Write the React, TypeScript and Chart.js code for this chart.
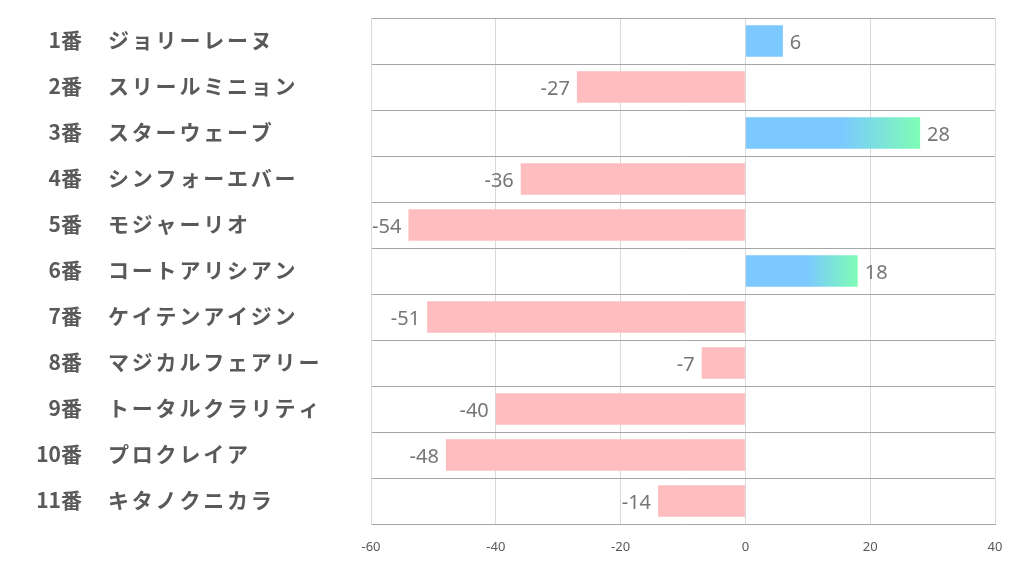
import React, { useEffect, useRef } from "react";
import { Chart, registerables } from "chart.js";

Chart.register(...registerables);

const horseNumbers = ["1番", "2番", "3番", "4番", "5番", "6番", "7番", "8番", "9番", "10番", "11番"];
const horseNames = [
  "ジョリーレーヌ",
  "スリールミニョン",
  "スターウェーブ",
  "シンフォーエバー",
  "モジャーリオ",
  "コートアリシアン",
  "ケイテンアイジン",
  "マジカルフェアリー",
  "トータルクラリティ",
  "プロクレイア",
  "キタノクニカラ",
];
const values = [6, -27, 28, -36, -54, 18, -51, -7, -40, -48, -14];
const xTicks = [-60, -40, -20, 0, 20, 40];

const BLUE = "#7BC9FF";
const GREEN = "#7EFDB5";
const PINK = "#FFBDBF";

const labelPlugin = {
  id: "labelPlugin",
  afterDraw(chart: any) {
    const ctx = chart.ctx;
    const y = chart.scales.y;
    const x = chart.scales.x;
    ctx.save();
    ctx.textBaseline = "middle";
    // category labels
    ctx.fillStyle = "#595959";
    ctx.font = "bold 21px 'Noto Sans CJK JP'";
    horseNumbers.forEach((n, i) => {
      const py = y.getPixelForValue(i) - 1;
      ctx.letterSpacing = "0px";
      ctx.textAlign = "right";
      ctx.fillText(n, 82, py);
      ctx.textAlign = "left";
      ctx.letterSpacing = "2.8px";
      ctx.fillText(horseNames[i], 108, py);
    });
    ctx.letterSpacing = "0px";
    // value labels
    ctx.fillStyle = "#767676";
    ctx.font = "20px 'Noto Sans'";
    values.forEach((v, i) => {
      const py = y.getPixelForValue(i) + 2;
      const px = x.getPixelForValue(v);
      if (v >= 0) {
        ctx.textAlign = "left";
        ctx.fillText(String(v), px + 7, py);
      } else {
        ctx.textAlign = "right";
        ctx.fillText(String(v), px - 7, py);
      }
    });
    ctx.restore();
  },
};

export default function App() {
  const ref = useRef<HTMLCanvasElement>(null);
  useEffect(() => {
    document.body.style.margin = "0";
    const chart = new Chart(ref.current!, {
      type: "bar",
      data: {
        labels: horseNumbers.map((n, i) => n + "　" + horseNames[i]),
        datasets: [
          {
            data: values,
            barPercentage: 0.68,
            categoryPercentage: 1,
            backgroundColor: (c: any) => {
              const v = values[c.dataIndex];
              if (v < 0) return PINK;
              const chartObj = c.chart;
              const xs = chartObj.scales?.x;
              if (!xs || v < 10) return BLUE;
              const x0 = xs.getPixelForValue(0);
              const x1 = xs.getPixelForValue(v);
              const g = chartObj.ctx.createLinearGradient(x0, 0, x1, 0);
              g.addColorStop(0, BLUE);
              g.addColorStop(0.55, BLUE);
              g.addColorStop(1, GREEN);
              return g;
            },
            borderWidth: 0,
          },
        ],
      },
      options: {
        indexAxis: "y",
        animation: false,
        responsive: false,
        maintainAspectRatio: false,
        layout: { padding: { left: 371, right: 27, top: 18, bottom: 0 } },
        plugins: { legend: { display: false }, tooltip: { enabled: false } },
        scales: {
          x: {
            min: -60,
            max: 40,
            afterBuildTicks: (s: any) => {
              s.ticks = xTicks.map((v) => ({ value: v }));
            },
            afterFit: (s: any) => {
              s.height = 50;
            },
            grid: { color: "#D9D9D9", drawTicks: false },
            border: { color: "#A6A6A6", width: 1 },
            ticks: {
              color: "#595959",
              font: { family: "'Noto Sans'", size: 13 },
              padding: 15,
              maxRotation: 0,
            },
          },
          y: {
            afterFit: (s: any) => {
              s.width = 0;
            },
            grid: { color: "#A6A6A6", offset: true, drawTicks: false },
            border: { color: "#D9D9D9", width: 1 },
            ticks: { display: false },
          },
        },
      },
      plugins: [labelPlugin],
    });
    return () => chart.destroy();
  }, []);
  return (
    <div style={{ position: "absolute", left: 0, top: 0, width: 1022, height: 574, background: "#fff" }}>
      <canvas ref={ref} width={1022} height={574} style={{ width: 1022, height: 574 }} />
    </div>
  );
}
